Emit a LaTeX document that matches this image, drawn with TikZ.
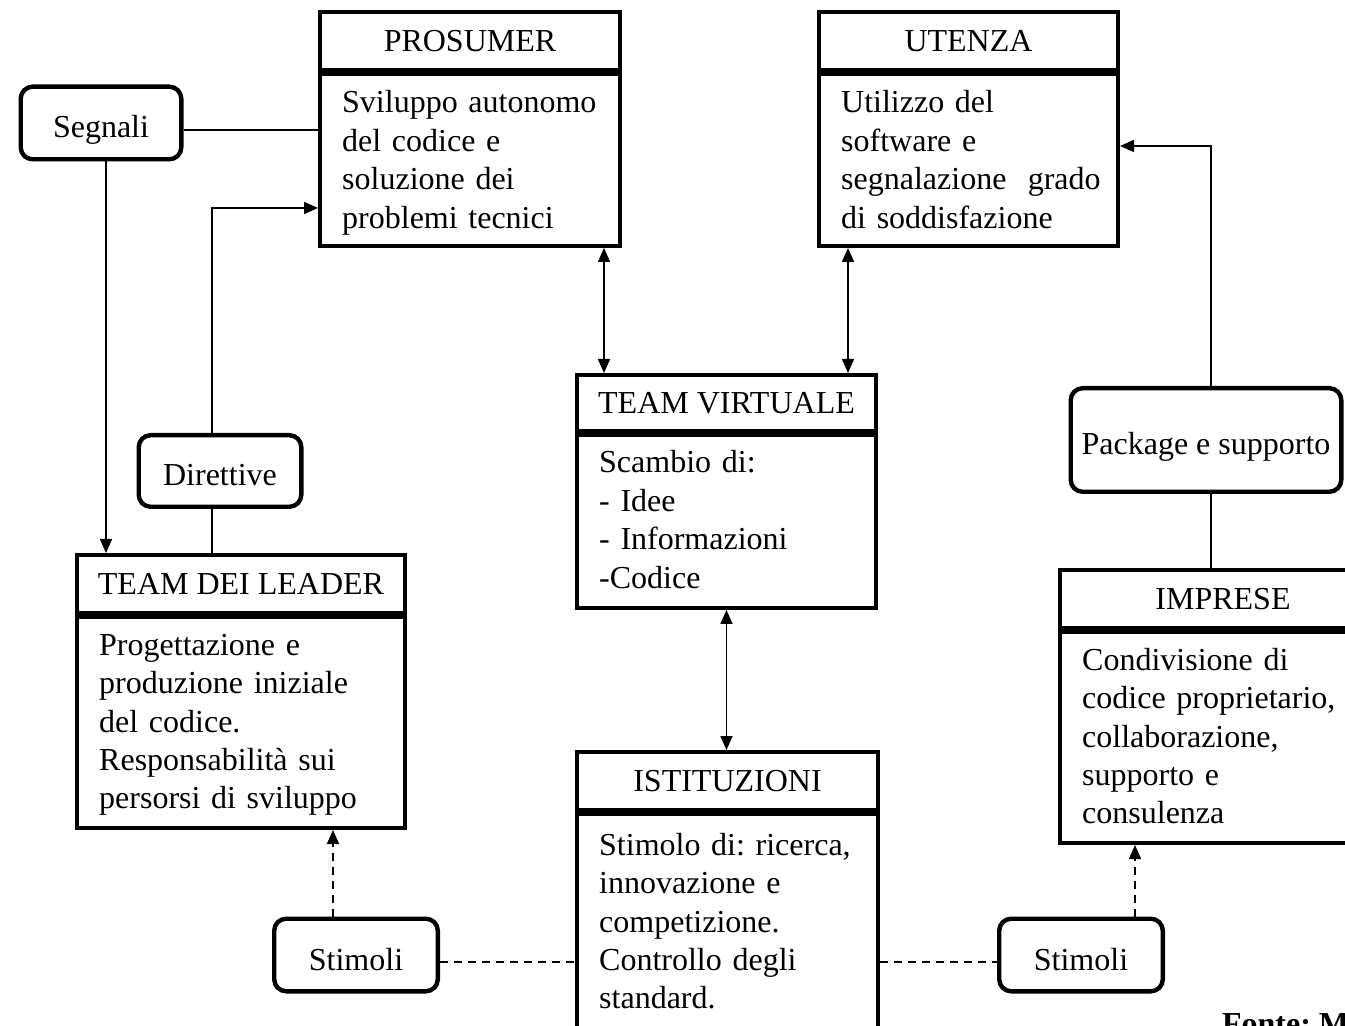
\documentclass[tikz,border=0pt]{standalone}
\usepackage{fontspec}
\setmainfont{Liberation Serif}
\usetikzlibrary{
  positioning,
  arrows.meta
}

\begin{document}
\frenchspacing
\begin{tikzpicture}[x=0.5pt, y=-0.5pt,
    font=\fontsize{16}{19.25}\selectfont,
    >={Triangle[length=7pt,width=6pt]},
    head/.style={draw, line width=2.2pt, inner sep=0pt, anchor=north west},
    body/.style={draw, line width=2.2pt, inner xsep=11pt, inner ysep=0pt, align=left,
      text height=11pt},
    tag/.style={draw, line width=2.2pt, rounded corners=6pt, inner sep=0pt,
      text height=18pt, text depth=3pt},
    link/.style={line width=0.8pt},
    dashline/.style={dash pattern=on 4pt off 3pt}]
    \useasboundingbox (0,0) rectangle (1345,1026);
    \clip (0,0) rectangle (1345,1026);

    % boxes with header and body
    \node[head, minimum width=149.8pt, minimum height=28.8pt] (pros) at (318,10) {PROSUMER};
    \node[body, below = 0pt of pros, text width=127.8pt, minimum height=85.8pt, text depth=58pt] (prosB)
      {Sviluppo autonomo\\del codice e\\soluzione dei\\problemi tecnici};
    \node[head, minimum width=149.3pt, minimum height=28.8pt] (uten) at (817,10) {UTENZA};
    \node[body, below = 0pt of uten, text width=127.3pt, minimum height=85.8pt, text depth=58pt] (utenB)
      {Utilizzo del\\software e\\\mbox{segnalazione\ \ grado}\\di soddisfazione};
    \node[head, minimum width=149.3pt, minimum height=27.8pt] (virt) at (575,373) {TEAM VIRTUALE};
    \node[body, below = 0pt of virt, text width=127.3pt, minimum height=86.3pt, text depth=59.5pt] (virtB)
      {Scambio di:\\- Idee\\- Informazioni\\-Codice};
    \node[head, minimum width=163.8pt, minimum height=28.8pt] (lead) at (75,553) {TEAM DEI LEADER};
    \node[body, below = 0pt of lead, text width=141.8pt, minimum height=105.3pt, text depth=78.5pt] (leadB)
      {Progettazione e\\produzione iniziale\\del codice.\\Responsabilità sui\\persorsi di sviluppo};
    \node[head, minimum width=150.3pt, minimum height=28.8pt] (isti) at (575,750) {ISTITUZIONI};
    \node[body, below = 0pt of isti, text width=128.3pt, minimum height=109.8pt, text depth=80pt] (istiB)
      {Stimolo di: ricerca,\\innovazione e\\competizione.\\Controllo degli\\standard.};
    \node[head, minimum width=162.8pt, minimum height=28.8pt] (impr) at (1058,568) {IMPRESE};
    \node[body, below = 0pt of impr, text width=140.8pt, minimum height=105.3pt, text depth=78.5pt] (imprB)
      {Condivisione di\\codice proprietario,\\collaborazione,\\supporto e\\consulenza};

    % rounded labels
    \node[tag, minimum width=80.3pt, minimum height=36.3pt] (segn) at (101,123) {Segnali};
    \node[tag, minimum width=81.3pt, minimum height=35.8pt] (dir) at (220,471) {Direttive};
    \node[tag, minimum width=81.8pt, minimum height=36.3pt] (stim1) at (356,955) {Stimoli};
    \node[tag, minimum width=81.8pt, minimum height=36.3pt] (stim2) at (1081,955) {Stimoli};
    \node[tag, minimum width=135.3pt, minimum height=51.8pt] (pack) at (1206,440) {Package e supporto};

    \node[anchor=base west, font=\fontsize{16}{19.25}\selectfont\bfseries] (fonte) at (1215,1034) {Fonte: M};

    % connections
    \coordinate (segnIn) at ([yshift=15pt]prosB.west);
    \draw[link] (segnIn -| segn.east) -- (segnIn);
    \draw[link,->] ([xshift=2.5pt]segn.south) -- ([xshift=2.5pt]segn.south |- lead.north);
    \draw[link,->] ([xshift=-4pt]dir.north) |- ([yshift=-24pt]prosB.west);
    \draw[link] ([xshift=-4pt]dir.south) -- ([xshift=-4pt]dir.south |- lead.north);
    \draw[link,<->] ([xshift=-9pt]prosB.south east) -- ([xshift=-9pt]prosB.south east |- virt.north);
    \draw[link,<->] ([xshift=15.5pt]utenB.south west) -- ([xshift=15.5pt]utenB.south west |- virt.north);
    \draw[link,<->] (virtB.south) -- (virtB.south |- isti.north);
    \draw[link,->] ([xshift=2.5pt]pack.north) |- ([yshift=7pt]utenB.east);
    \draw[link] ([xshift=2.5pt]pack.south) -- ([xshift=2.5pt]pack.south |- impr.north);
    \coordinate (stimL) at ([yshift=-3.5pt]stim1.east);
    \coordinate (stimR) at ([yshift=-3.5pt]stim2.west);
    \draw[link,dashline] (stimL) -- (stimL -| istiB.west);
    \draw[link,dashline] (stimR -| istiB.east) -- (stimR);
    \draw[link,dashline,->] ([xshift=-11.5pt]stim1.north) -- ([xshift=-11.5pt]stim1.north |- leadB.south);
    \draw[link,dashline,->] ([xshift=27pt]stim2.north) -- ([xshift=27pt]stim2.north |- imprB.south);
\end{tikzpicture}
\end{document}
